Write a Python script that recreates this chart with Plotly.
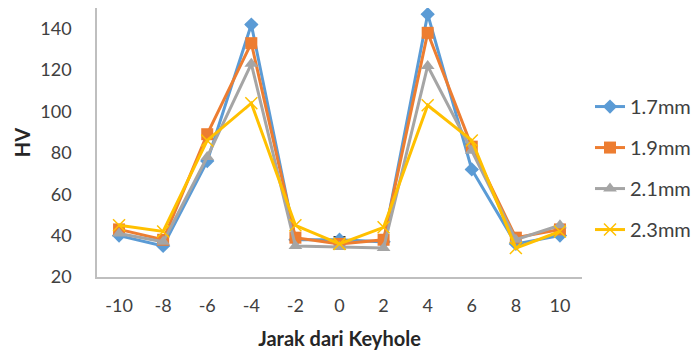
import plotly.graph_objects as go

# Distance from keyhole (mm) and hardness (HV) for each tool-pin setting
jarak = [-10, -8, -6, -4, -2, 0, 2, 4, 6, 8, 10]
hv_17 = [40, 35, 76, 142, 38, 38, 37, 147, 72, 36, 40]
hv_19 = [43, 38, 89, 133, 39, 36, 38, 138, 83, 39, 43]
hv_21 = [41, 37, 78, 123, 35, 34.5, 34, 122, 81, 38, 45]
hv_23 = [45, 42, 86, 104, 45, 36, 44, 103, 86, 34, 42]
series_names = ["1.7mm", "1.9mm", "2.1mm", "2.3mm"]
y_ticks = [20, 40, 60, 80, 100, 120, 140]
x_ticks = jarak

series = [
    (series_names[0], hv_17, "#5B9BD5", dict(symbol="diamond", size=11)),
    (series_names[1], hv_19, "#ED7D31", dict(symbol="square", size=12)),
    (series_names[2], hv_21, "#A5A5A5", dict(symbol="triangle-up", size=12)),
    (series_names[3], hv_23, "#FFC000",
     dict(symbol="x-thin", size=12, line=dict(width=1.5, color="#FFC000"))),
]

fig = go.Figure()
for i, (name, vals, color, marker) in enumerate(series):
    fig.add_trace(go.Scatter(
        x=jarak, y=vals, name=name, mode="lines+markers",
        line=dict(color=color, width=3),
        marker=dict(color=color, **marker),
        legendgroup=name,
    ))

# small error cap on the 1.7mm reading at the keyhole centre
err_plus = [0] * len(jarak)
err_plus[jarak.index(0)] = 1.5
fig.data[0].error_y = dict(type="data", array=err_plus, arrayminus=[0] * len(jarak),
                           symmetric=False, color="#404040", thickness=1.5, width=6)

font_family = "Lato, 'Open Sans', sans-serif"
fig.update_layout(
    width=697, height=350,
    margin=dict(l=97, r=115, t=8, b=73, autoexpand=False),
    plot_bgcolor="white", paper_bgcolor="white",
    font=dict(family=font_family, size=18, color="#404040"),
    showlegend=True,
    legend=dict(x=1.0165, xanchor="left", y=0.405, yanchor="middle",
                font=dict(size=20, color="#404040"),
                tracegroupgap=12, bgcolor="rgba(0,0,0,0)"),
    xaxis=dict(
        range=[-11, 11], tickvals=x_ticks, ticktext=[str(v) for v in x_ticks],
        showgrid=False, zeroline=False, automargin=False,
        showline=True, linecolor="#BFBFBF", linewidth=1.5,
        ticks="outside", ticklen=12, tickcolor="rgba(0,0,0,0)",
        tickfont=dict(size=18, color="#404040"),
        title=dict(text="<b>Jarak dari Keyhole</b>", standoff=20,
                   font=dict(size=20, color="#262626")),
    ),
    yaxis=dict(
        range=[20, 150], tickvals=y_ticks,
        showgrid=False, zeroline=False, automargin=False,
        showline=True, linecolor="#BFBFBF", linewidth=1.5,
        ticks="outside", ticklen=20, tickcolor="rgba(0,0,0,0)",
        tickfont=dict(size=18, color="#404040"),
        title=dict(text="<b>HV</b>", standoff=4,
                   font=dict(size=20, color="#262626")),
    ),
)

fig.write_html("out.html")
